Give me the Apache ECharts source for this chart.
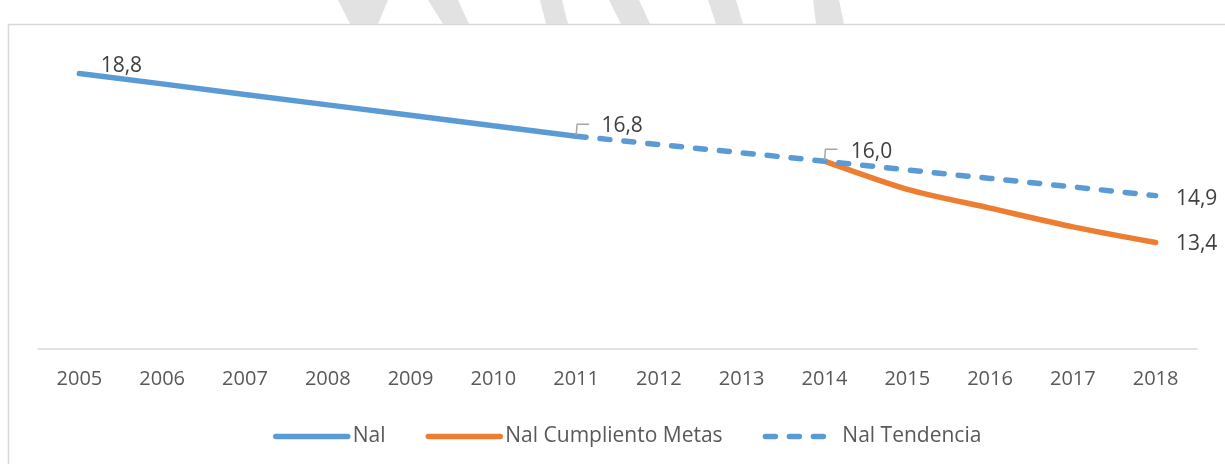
<!DOCTYPE html>
<html>
<head>
<meta charset="utf-8">
<script src="https://cdn.jsdelivr.net/npm/echarts@6/dist/echarts.min.js"></script>
<style>
  html, body { margin: 0; padding: 0; background: #ffffff; }
  #chart { width: 1225px; height: 464px; }
</style>
</head>
<body>
<div id="chart"></div>
<script>
// años del eje x
const years = ['2005', '2006', '2007', '2008', '2009', '2010', '2011',
               '2012', '2013', '2014', '2015', '2016', '2017', '2018'];

// valores (null = sin dato)
const nal =        [18.8, 18.47, 18.13, 17.8, 17.47, 17.13, 16.8, null, null, null, null, null, null, null];
const nalMetas =   [null, null, null, null, null, null, null, null, null, 16.0, 15.1, 14.5, 13.9, 13.4];
const nalTend =    [null, null, null, null, null, null, 16.8, 16.53, 16.27, 16.0, 15.72, 15.45, 15.18, 14.9];

// puntos con etiqueta de datos (índice de año) y su desplazamiento
const nalLabels = { 0: [42, -8] };
const metasLabels = { 13: [41, 1] };
const tendLabels = { 6: [46, -10], 9: [47, -9], 13: [41, 3] };
// puntos con línea guía gris
const leaderPts = [[6, 16.8], [9, 16.0]];

const BLUE = '#5B9BD5';
const ORANGE = '#ED7D31';

function fmt(v) { return v.toFixed(1).replace('.', ','); }

// arma la serie con etiquetas solo en los puntos indicados
function withLabels(values, labels, color) {
  return values.map((v, i) => {
    if (v === null || !labels[i]) return v;
    return {
      value: v,
      symbol: 'circle',
      symbolSize: 2,
      itemStyle: { color: color },
      label: {
        show: true,
        position: 'inside',
        offset: labels[i],
        formatter: p => fmt(p.value),
        color: '#404040',
        fontSize: 21,
        fontFamily: 'Open Sans'
      }
    };
  });
}

const chart = echarts.init(document.getElementById('chart'));

const option = {
  backgroundColor: '#ffffff',
  animation: false,
  grid: { left: 38, right: 28, top: 36, bottom: 115 },
  graphic: [
    // marco del gráfico
    { type: 'rect', silent: true, z: -1,
      shape: { x: 8.5, y: 24.5, width: 1240, height: 460 },
      style: { fill: 'none', stroke: '#d9d9d9', lineWidth: 1.5 } },
    // marca de agua (franjas grises arriba)
    { type: 'polygon', silent: true, shape: { points: [[338, 0], [388, 0], [378, 24], [350, 24]] }, style: { fill: '#e2e2e2' } },
    { type: 'polygon', silent: true, shape: { points: [[428, 0], [458, 0], [469, 24], [443, 24]] }, style: { fill: '#e2e2e2' } },
    { type: 'polygon', silent: true, shape: { points: [[540, 0], [562, 0], [568, 24], [546, 24]] }, style: { fill: '#e2e2e2' } },
    { type: 'polygon', silent: true, shape: { points: [[609, 0], [639, 0], [650, 24], [621, 24]] }, style: { fill: '#e2e2e2' } },
    { type: 'polygon', silent: true, shape: { points: [[708, 0], [736, 0], [743, 24], [716, 24]] }, style: { fill: '#e2e2e2' } },
    { type: 'polygon', silent: true, shape: { points: [[813, 0], [839, 0], [844, 24], [816, 24]] }, style: { fill: '#e2e2e2' } }
  ],
  legend: {
    data: ['Nal', 'Nal Cumpliento Metas', 'Nal Tendencia'],
    left: 268,
    top: 421,
    itemWidth: 72,
    itemHeight: 14,
    itemGap: 40,
    itemStyle: { opacity: 0 },
    lineStyle: { width: 5.5, cap: 'round' },
    textStyle: { color: '#595959', fontSize: 21, fontFamily: 'Open Sans' }
  },
  xAxis: {
    type: 'category',
    data: years,
    boundaryGap: true,
    axisLine: { lineStyle: { color: '#d9d9d9', width: 1.5 } },
    axisTick: { show: false },
    axisLabel: { color: '#595959', fontSize: 20, fontFamily: 'Open Sans', margin: 20, interval: 0 }
  },
  yAxis: {
    type: 'value',
    min: 10,
    max: 20,
    show: false,
    splitLine: { show: false }
  },
  series: [
    {
      name: 'Nal',
      type: 'line',
      symbol: 'none',
      color: BLUE,
      lineStyle: { color: BLUE, width: 5.5, cap: 'round' },
      data: withLabels(nal, nalLabels, BLUE),
      z: 2
    },
    {
      name: 'Nal Cumpliento Metas',
      type: 'line',
      symbol: 'none',
      smooth: 0.25,
      color: ORANGE,
      lineStyle: { color: ORANGE, width: 5.5, cap: 'round' },
      data: withLabels(nalMetas, metasLabels, ORANGE),
      z: 3
    },
    {
      name: 'Nal Tendencia',
      type: 'line',
      symbol: 'none',
      color: BLUE,
      lineStyle: { color: BLUE, width: 5.5, type: [10, 14], cap: 'round' },
      data: withLabels(nalTend, tendLabels, BLUE),
      z: 4
    },
    {
      // líneas guía de las etiquetas 16,8 y 16,0
      name: 'guias',
      type: 'custom',
      silent: true,
      z: 5,
      data: leaderPts,
      renderItem: function (params, api) {
        const p = api.coord([api.value(0), api.value(1)]);
        return {
          type: 'polyline',
          shape: { points: [[p[0], p[1] - 1], [p[0] + 1, p[1] - 12], [p[0] + 13, p[1] - 12]] },
          style: { stroke: '#a6a6a6', lineWidth: 1.5, fill: 'none' }
        };
      }
    }
  ]
};

chart.setOption(option);
window.onresize = function () { chart.resize(); };
</script>
</body>
</html>
